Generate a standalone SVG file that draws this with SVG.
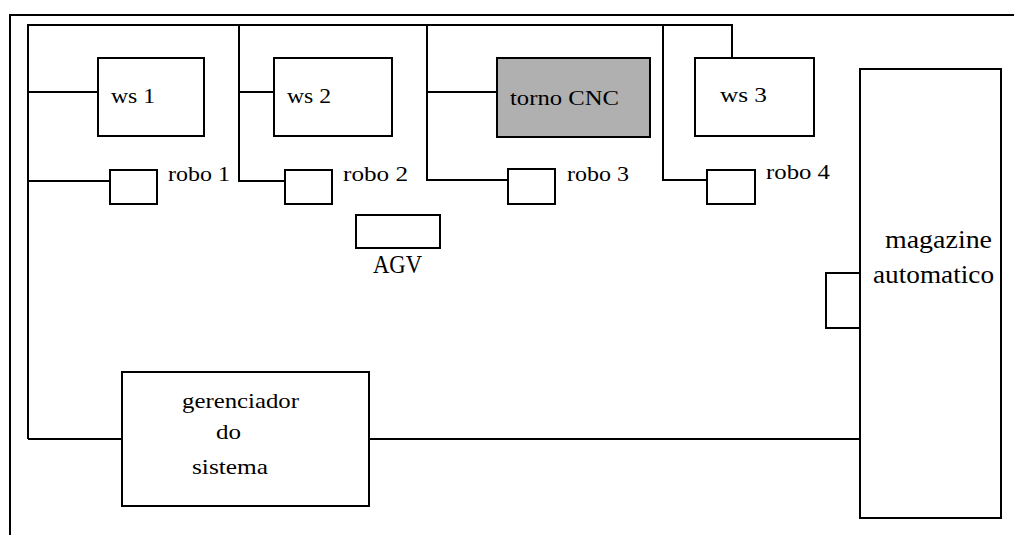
<svg xmlns="http://www.w3.org/2000/svg" width="1014" height="535" viewBox="0 0 1014 535">
<style>
.box{fill:#fff;stroke:#000;stroke-width:2}
.gray{fill:#b0b0b0;stroke:#000;stroke-width:2}
.ln{fill:none;stroke:#000;stroke-width:2}
text{font-family:"Liberation Serif","Times New Roman",serif;font-size:22px;fill:#000}
.big{font-size:25px}
</style>
<rect width="1014" height="535" fill="#fff"/>
<g id="frame">
<path class="ln" d="M10,535 V15 H1014"/>
</g>
<g id="connectors">
<path class="ln" d="M28,439 V25 H732 V58"/>
<path class="ln" d="M28,92 H98"/>
<path class="ln" d="M28,181 H110"/>
<path class="ln" d="M239,25 V181 H285"/>
<path class="ln" d="M239,92 H274"/>
<path class="ln" d="M427,25 V180 H508"/>
<path class="ln" d="M427,92 H497"/>
<path class="ln" d="M663,25 V180 H707"/>
<path class="ln" d="M28,439 H122"/>
<path class="ln" d="M369,439 H860"/>
</g>
<g id="ws1"><rect class="box" x="98" y="58" width="106" height="78"/><text x="111" y="103" textLength="44" lengthAdjust="spacingAndGlyphs">ws 1</text></g>
<g id="ws2"><rect class="box" x="274" y="58" width="118" height="78"/><text x="287" y="103" textLength="44" lengthAdjust="spacingAndGlyphs">ws 2</text></g>
<g id="torno"><rect class="gray" x="497" y="58" width="153" height="79"/><text x="510" y="105" textLength="109" lengthAdjust="spacingAndGlyphs">torno CNC</text></g>
<g id="ws3"><rect class="box" x="695" y="58" width="119" height="78"/><text x="720" y="102" textLength="47" lengthAdjust="spacingAndGlyphs">ws 3</text></g>
<g id="robo1"><rect class="box" x="110" y="170" width="47" height="34"/><text x="168" y="181" textLength="62" lengthAdjust="spacingAndGlyphs">robo 1</text></g>
<g id="robo2"><rect class="box" x="285" y="170" width="47" height="34"/><text x="343" y="181" textLength="65" lengthAdjust="spacingAndGlyphs">robo 2</text></g>
<g id="robo3"><rect class="box" x="508" y="169" width="47" height="35"/><text x="567" y="181" textLength="62" lengthAdjust="spacingAndGlyphs">robo 3</text></g>
<g id="robo4"><rect class="box" x="707" y="170" width="48" height="34"/><text x="766" y="179" textLength="64" lengthAdjust="spacingAndGlyphs">robo 4</text></g>
<g id="agv"><rect class="box" x="356" y="215" width="84" height="33"/><text class="big" x="373" y="273" textLength="49" lengthAdjust="spacingAndGlyphs">AGV</text></g>
<g id="gerenciador"><rect class="box" x="122" y="372" width="247" height="134"/>
<text x="182" y="408" textLength="117" lengthAdjust="spacingAndGlyphs">gerenciador</text>
<text x="216" y="439" textLength="25" lengthAdjust="spacingAndGlyphs">do</text>
<text x="192" y="474" textLength="76" lengthAdjust="spacingAndGlyphs">sistema</text></g>
<g id="magazine"><rect class="box" x="860" y="69" width="141" height="449"/><rect class="box" x="826" y="273" width="34" height="55"/>
<text class="big" x="885" y="248" textLength="107" lengthAdjust="spacingAndGlyphs">magazine</text>
<text class="big" x="873" y="283" textLength="121" lengthAdjust="spacingAndGlyphs">automatico</text></g>
</svg>
